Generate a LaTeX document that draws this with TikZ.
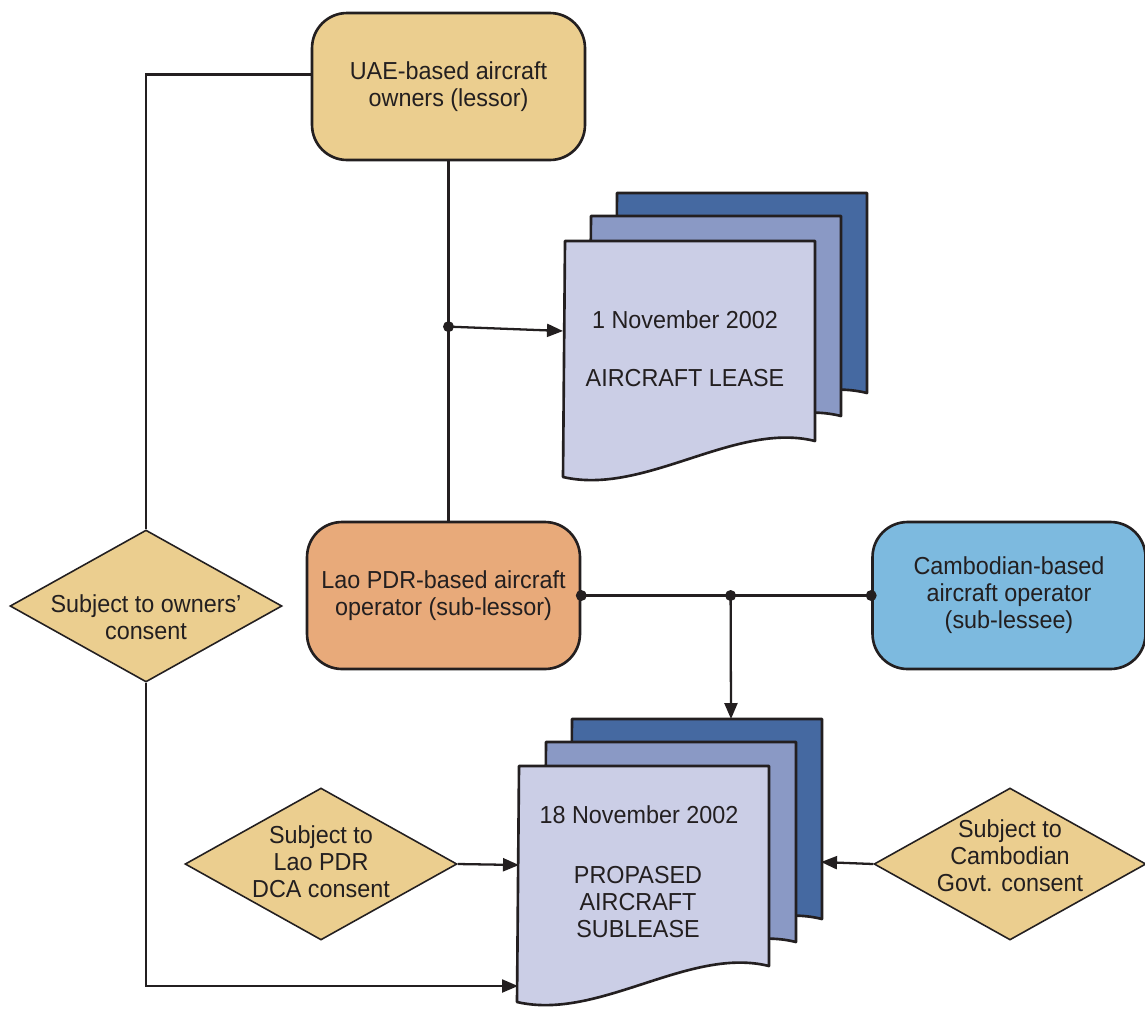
\documentclass[tikz,border=0pt]{standalone}
\usepackage{fontspec}
\setmainfont{Liberation Sans}[FakeStretch=0.95]
\usepackage{tikz}
\usetikzlibrary{arrows.meta,shapes.geometric,calc,positioning}
\definecolor{sand}{HTML}{EBCE8F}
\definecolor{apricot}{HTML}{E8AA7A}
\definecolor{sky}{HTML}{7DBADF}
\definecolor{pagedark}{HTML}{4569A1}
\definecolor{pagemid}{HTML}{8A99C5}
\definecolor{pagelight}{HTML}{CBCEE6}
\definecolor{ink}{HTML}{231F20}
\tikzstyle{party}=[draw=ink,line width=1.5pt,rounded corners=0.7cm,minimum width=5.46cm,minimum height=2.94cm,align=center,text=ink]
\tikzstyle{cond}=[diamond,draw=ink,line width=0.9pt,fill=sand,minimum width=5.44cm,minimum height=3.04cm,inner sep=0pt]
\tikzstyle{condtext}=[align=center,text=ink,inner sep=0pt]
\tikzstyle{junc}=[circle,fill=ink,inner sep=0pt,minimum size=0.22cm]
\tikzstyle{sheet}=[draw=ink,line width=1.5pt,line join=round]
\tikzstyle{link}=[draw=ink,line width=1.3pt]
\tikzstyle{arr}=[link,-{Triangle[length=0.32cm,width=0.26cm]}]
\newcommand\docsheet[3]{%
  \draw[sheet,fill=#3,shift={(#1,#2)}] (0,0) -- (250,0) -- (250,200)
     .. controls (170,180) and (80,255) .. (-2,236) -- cycle;}
\begin{document}
\begin{tikzpicture}[x=0.02cm,y=-0.02cm,font=\fontsize{14}{15.4}\selectfont]
\useasboundingbox (0,0) rectangle (1145,1015);
% paper stacks
\docsheet{617}{193}{pagedark}
\docsheet{591}{216}{pagemid}
\docsheet{565}{241}{pagelight}
\docsheet{572}{719}{pagedark}
\docsheet{546}{742}{pagemid}
\docsheet{519}{766}{pagelight}
\node[text=ink] (leasedate) at (685,320) {1 November 2002};
\node[text=ink] (leasetitle) at (685,378) {AIRCRAFT LEASE};
\node[text=ink] (subdate) at (639,815) {18 November 2002};
\node[text=ink,align=center] (subtitle) at (638,902) {PROPASED\\AIRCRAFT\\SUBLEASE};
% parties
\node[party,fill=sand] (uae) at (448.5,86.5) {UAE-based aircraft\\owners (lessor)};
\node[party,fill=apricot] (lao) at (443.5,595.5) {Lao PDR-based aircraft\\operator (sub-lessor)};
\node[party,fill=sky] (camb) at (1009,595.5) {Cambodian-based\\aircraft operator\\(sub-lessee)};
% conditions
\node[cond] (owners) at (146,606) {};
\node[condtext] (ownerstext) at ($(owners)+(0,11)$) {Subject to owners'\\consent};
\node[cond] (dca) at (321,864) {};
\node[condtext] (dcatext) at ($(dca)+(0,-2)$) {Subject to\\Lao PDR\\DCA consent};
\node[cond] (govt) at (1010,864) {};
\node[condtext] (govttext) at ($(govt)+(0,-8)$) {Subject to\\Cambodian\\Govt. consent};
% connectors
\coordinate (leasein) at (563,331);
\coordinate (subtop) at (731,719);
\coordinate (subin) at (519,865);
\coordinate (subfoot) at (518,986);
\coordinate (subside) at (821,862);
\draw[link] (uae.south) -- coordinate[pos=0.46] (split) (uae.south |- lao.north);
\draw[arr] (split) -- (leasein);
\node[junc] (splitdot) at (split) {};
\draw[link] ($(uae.west)+(0,-12)$) -| (owners.north);
\draw[arr] (owners.south) |- (subfoot);
\draw[link] (lao.east) -- coordinate[pos=0.515] (fork) (camb.west);
\draw[arr] (fork) -- (subtop);
\node[junc] (forkdot) at (fork) {};
\node[junc] (laodot) at (lao.east) {};
\node[junc] (cambdot) at (camb.west) {};
\draw[arr] (dca.east) -- (subin);
\draw[arr] (govt.west) -- (subside);
\end{tikzpicture}
\end{document}
